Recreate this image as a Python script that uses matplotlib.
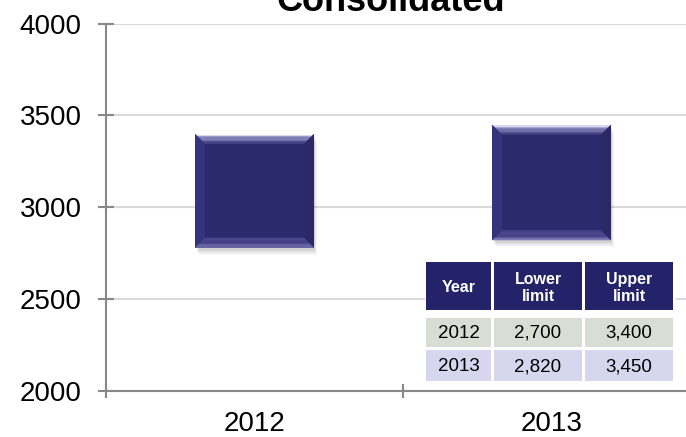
import matplotlib
matplotlib.use('Agg')
import matplotlib.pyplot as plt
from matplotlib.patches import Rectangle, Polygon
import matplotlib.transforms as mtransforms
import matplotlib.colors as mcolors
import numpy as np

plt.rcParams['font.family'] = ['Liberation Sans', 'DejaVu Sans']

# ---------------- data ----------------
years = ['2012', '2013']
bar_lower = [2780, 2820]
bar_upper = [3400, 3450]
yticks = [2000, 2500, 3000, 3500, 4000]
table_header = ['Year', 'Lower\nlimit', 'Upper\nlimit']
table_years = ['2012', '2013']
table_lower = ['2,700', '2,820']
table_upper = ['3,400', '3,450']
title = 'Consolidated'

# ---------------- figure ----------------
W, H = 686, 437
fig = plt.figure(figsize=(W / 100, H / 100), dpi=100)
ax = fig.add_axes([106 / W, 1 - 391 / H, 580 / W, (391 - 23.5) / H])

xs = list(range(len(years)))
bw = 0.4
heights = [u - l for u, l in zip(bar_upper, bar_lower)]

# axes styling (ticks first, limits after so ticks do not widen them)
ax.set_yticks(yticks)
ax.set_yticklabels([str(v) for v in yticks])
ax.set_xticks(xs)
ax.set_xticklabels(years)
ax.set_xticks([-0.5, 0.5, 1.5], minor=True)
ax.set_ylim(2000, 4000)
ax.set_xlim(-0.5, 1.453)

# shadow
for k, a in [(7, 0.04), (5, 0.06), (3, 0.08)]:
    tr = mtransforms.offset_copy(ax.transData, fig, x=k * 0.5, y=-k, units='dots')
    for xi, lo, h in zip(xs, bar_lower, heights):
        ax.add_patch(Rectangle((xi - bw / 2, lo), bw, h, transform=tr,
                               facecolor='#000000', alpha=a, edgecolor='none', zorder=2))

ax.bar(xs, heights, bottom=bar_lower, width=bw, color='#2b2a6c', zorder=3)

# bevels
dx = 10 / 297
dy = 10 / 183.75 * 1000


def mix(c1, c2, t):
    a = np.array(mcolors.to_rgb(c1))
    b = np.array(mcolors.to_rgb(c2))
    return tuple(a + (b - a) * t)


n = 8
for xi, lo, hi in zip(xs, bar_lower, bar_upper):
    x0, x1 = xi - bw / 2, xi + bw / 2
    left = Polygon([(x0, lo), (x0, hi), (x0 + dx, hi - dy), (x0 + dx, lo + dy)],
                   closed=True, facecolor='#34337c', edgecolor='none', zorder=4)
    right = Polygon([(x1, lo), (x1, hi), (x1 - dx, hi - dy), (x1 - dx, lo + dy)],
                    closed=True, facecolor='#2a2966', edgecolor='none', zorder=4)
    ax.add_patch(left)
    ax.add_patch(right)
    for j in range(n):
        t0, t1 = j / n, (j + 1) / n
        # top bevel gradient: white -> lavender -> navy
        if t0 < 0.3:
            c = mix('#ffffff', '#a09fd2', t0 / 0.3)
        else:
            c = mix('#a09fd2', '#34337a', (t0 - 0.3) / 0.7)
        ax.add_patch(Polygon([(x0 + dx * t0, hi - dy * t0), (x1 - dx * t0, hi - dy * t0),
                              (x1 - dx * t1, hi - dy * t1), (x0 + dx * t1, hi - dy * t1)],
                             closed=True, facecolor=c, edgecolor='none', zorder=5))
        # bottom bevel gradient
        cb = mix('#8584bb', '#4a4990', min(1, t0 * 2.5))
        ax.add_patch(Polygon([(x0 + dx * t0, lo + dy * t0), (x1 - dx * t0, lo + dy * t0),
                              (x1 - dx * t1, lo + dy * t1), (x0 + dx * t1, lo + dy * t1)],
                             closed=True, facecolor=cb, edgecolor='none', zorder=5))

ax.yaxis.grid(True, color='#d9d9d9', lw=1.5)
ax.set_axisbelow(True)
for s in ('top', 'right'):
    ax.spines[s].set_visible(False)
for s in ('left', 'bottom'):
    ax.spines[s].set_color('#888888')
    ax.spines[s].set_linewidth(1.5)
ax.tick_params(axis='y', direction='inout', length=12, width=1.5, color='#888888',
               labelsize=20, pad=11.5)
ax.tick_params(axis='x', which='major', length=0, labelsize=20, pad=14.5)
ax.tick_params(axis='x', which='minor', direction='inout', length=10, width=1.5,
               color='#888888')

# title (cropped at top)
fig.text(391 / W, 1 - 11 / H, title, ha='center', va='baseline', fontsize=26,
         fontweight='bold')

# ---------------- table ----------------
def prect(x0, y0, x1, y1, color, z=10):
    fig.add_artist(Rectangle((x0 / W, 1 - y1 / H), (x1 - x0) / W, (y1 - y0) / H,
                             transform=fig.transFigure, facecolor=color,
                             edgecolor='none', zorder=z))


def ptext(x, y, s, **kw):
    fig.text(x / W, 1 - y / H, s, ha='center', va='center', zorder=12, **kw)


prect(425, 258, 676, 384, 'white', z=9)
cols = [(426, 491), (494, 582), (585, 673)]
hdr = (262, 310)
rows = [(318, 347), (350, 381)]
row_colors = ['#d8ded3', '#d6d6ef']

for (c0, c1), lab in zip(cols, table_header):
    prect(c0, hdr[0], c1, hdr[1], '#24236a')
    ptext((c0 + c1) / 2, (hdr[0] + hdr[1]) / 2 + 2, lab, color='white',
          fontsize=11.5, fontweight='bold', linespacing=1.2)

for (r0, r1), rc, yr, lo, up in zip(rows, row_colors, table_years, table_lower, table_upper):
    for (c0, c1), s in zip(cols, [yr, lo, up]):
        prect(c0, r0, c1, r1, rc)
        ptext((c0 + c1) / 2, (r0 + r1) / 2 + 1, s, color='black', fontsize=13.5)

fig.savefig('out.png', dpi=100)
